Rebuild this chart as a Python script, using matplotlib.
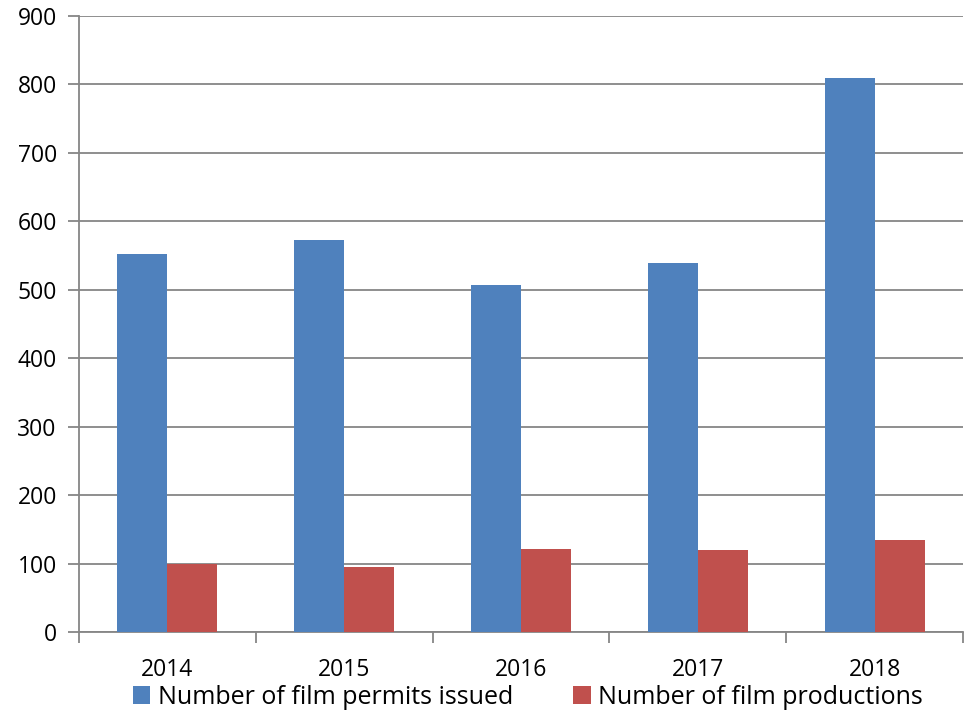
import matplotlib
matplotlib.use("Agg")
import matplotlib.pyplot as plt
import numpy as np
from matplotlib.patches import Patch

years = ["2014", "2015", "2016", "2017", "2018"]
permits = [552, 572, 507, 539, 810]
productions = [100, 95, 121, 120, 134]
series_names = ["Number of film permits issued", "Number of film productions"]
colors = ["#4F81BD", "#C0504D"]

plt.rcParams['font.family'] = ['Open Sans', 'DejaVu Sans']

fig = plt.figure(figsize=(9.70, 7.13), dpi=100)
ax = fig.add_axes([79 / 970, 1 - 632 / 713, (963 - 79) / 970, (632 - 16) / 713])

x = np.arange(len(years))
w = 0.283
ax.bar(x - w / 2, permits, width=w, color=colors[0], zorder=3)
ax.bar(x + w / 2, productions, width=w, color=colors[1], zorder=3)

grid_c = "#868686"
ax.set_ylim(0, 900)
ax.set_xlim(-0.5, len(years) - 0.5)
ax.set_yticks(np.arange(0, 901, 100))
ax.yaxis.grid(True, color=grid_c, linewidth=1.3, zorder=0)
ax.set_axisbelow(True)

for s in ["top", "right"]:
    ax.spines[s].set_visible(False)
for s in ["left", "bottom"]:
    ax.spines[s].set_color(grid_c)
    ax.spines[s].set_linewidth(1.3)

# category labels centred, tick marks on category boundaries
ax.set_xticks(x)
ax.set_xticklabels(years, fontsize=16.5)
ax.tick_params(axis="x", length=0, pad=19)
ax.set_xticks(np.arange(-0.5, len(years)), minor=True)
ax.tick_params(axis="x", which="minor", length=8, color=grid_c, width=1.3)
ax.tick_params(axis="y", length=8, color=grid_c, width=1.3, labelsize=16.5, pad=8)

handles = [Patch(facecolor=c, edgecolor="none") for c in colors]
fig.legend(handles, series_names, loc="center", bbox_to_anchor=(528 / 970, 1 - 697 / 713),
           ncol=2, frameon=False, fontsize=18, handlelength=0.7, handleheight=0.7,
           handletextpad=0.3, columnspacing=2.4, borderpad=0)

fig.savefig("out.png", dpi=100)
